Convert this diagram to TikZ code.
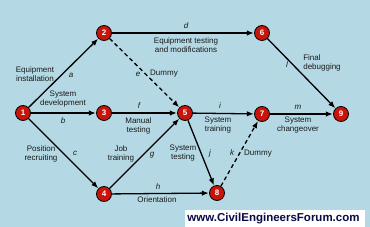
\documentclass[tikz,border=0pt]{standalone}
\usepackage{fontspec}
\setmainfont{Liberation Sans}
\usetikzlibrary{arrows.meta}
\definecolor{bgc}{RGB}{180,216,228}
\definecolor{nodered}{RGB}{200,20,10}
\definecolor{webblue}{RGB}{10,10,70}
\definecolor{txt}{RGB}{25,25,25}
\tikzset{
  ev/.style={circle,draw=black,line width=0.8pt,fill=nodered,minimum size=15pt,inner sep=0pt,
    text=white,font=\fontsize{8}{8}\selectfont\bfseries},
  act/.style={line width=1.3pt,-{Latex[length=7pt,width=5.5pt]},shorten >=0.3pt},
  dum/.style={act,dash pattern=on 4pt off 3pt},
  lab/.style={align=center,text=txt,font=\fontsize{8}{9}\selectfont,inner sep=0pt},
  let/.style={text=txt,font=\fontsize{8}{9}\selectfont\itshape,inner sep=0pt}
}
\begin{document}
\begin{tikzpicture}[x=1pt,y=-1pt]
\useasboundingbox (0,0) rectangle (370,227);
\fill[bgc] (0,0) rectangle (370,227);
\fill[white] (185,210) rectangle (365,227);
\node[font=\fontsize{11.5}{12}\selectfont\bfseries,text=webblue,inner sep=0pt] (web) at (273.5,218.5) {www.CivilEngineersForum.com};

\node[ev] (n1) at (23,113) {1};
\node[ev] (n2) at (104,33) {2};
\node[ev] (n3) at (104,113) {3};
\node[ev] (n4) at (104,194) {4};
\node[ev] (n5) at (185,113) {5};
\node[ev] (n6) at (262,33) {6};
\node[ev] (n7) at (262,114) {7};
\node[ev] (n8) at (217,193) {8};
\node[ev] (n9) at (341,114) {9};

\draw[act] (n1) -- (n2);
\draw[act] (n1) -- (n3);
\draw[act] (n1) -- (n4);
\draw[act] (n2) -- (n6);
\draw[dum] (n2) -- (n5);
\draw[act] (n3) -- (n5);
\draw[act] (n4) -- (n5);
\draw[act] (n4) -- (n8);
\draw[act] (n5) -- (n7);
\draw[act] (n5) -- (n8);
\draw[dum] (n8) -- (n7);
\draw[act] (n6) -- (n9);
\draw[act] (n7) -- (n9);

\node[lab] (l1) at (35,74) {Equipment\\installation};
\node[let] (la) at (71,75) {a};
\node[let] (le) at (138,74) {e};
\node[lab] (ld1) at (164,74) {Dummy};
\node[lab] (l2) at (63,99) {System\\development};
\node[let] (ld) at (186,26) {d};
\node[lab] (l3) at (186,45.5) {Equipment testing\\and modifications};
\node[let] (ll) at (287,65) {l};
\node[lab,align=left] (l4) at (322,63) {Final\\debugging};
\node[let] (lb) at (63,121) {b};
\node[let] (lf) at (139,106) {f};
\node[lab] (l5) at (138.5,125.5) {Manual\\testing};
\node[let] (li) at (220,106) {i};
\node[lab] (l6) at (218,125.5) {System\\training};
\node[let] (lm) at (298,107) {m};
\node[lab] (l7) at (298,125.5) {System\\changeover};
\node[lab] (l8) at (41,153.5) {Position\\recruiting};
\node[let] (lc) at (75,153) {c};
\node[lab] (l9) at (121,153.5) {Job\\training};
\node[let] (lg) at (152,155) {g};
\node[lab] (l10) at (183,153.5) {System\\testing};
\node[let] (lj) at (210,153) {j};
\node[let] (lk) at (232,153) {k};
\node[lab] (ld2) at (258,154) {Dummy};
\node[let] (lh) at (158,187) {h};
\node[lab] (l11) at (157,200) {Orientation};
\end{tikzpicture}
\end{document}
